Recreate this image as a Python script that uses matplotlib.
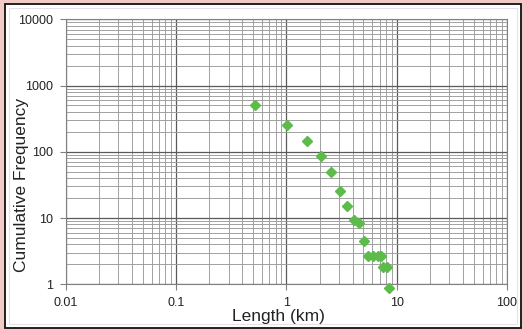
import matplotlib
matplotlib.use("Agg")
import matplotlib.pyplot as plt
from matplotlib.patches import Rectangle
from matplotlib.ticker import LogLocator, FixedLocator, FixedFormatter, NullFormatter

# Data
length_km = [0.52, 1.01, 1.55, 2.05, 2.54, 3.05, 3.57, 4.11, 4.59, 5.1,
             5.5, 6.1, 6.8, 7.2, 7.5, 8.2, 8.6]
cum_freq = [500, 254, 147, 85, 49.5, 25.9, 15.0, 9.3, 8.4, 4.55,
            2.7, 2.7, 2.7, 2.7, 1.8, 1.8, 0.87]
x_ticks = [0.01, 0.1, 1, 10, 100]
x_tick_labels = ["0.01", "0.1", "1", "10", "100"]
y_ticks = [1, 10, 100, 1000, 10000]
y_tick_labels = ["1", "10", "100", "1000", "10000"]

plt.rcParams['font.family'] = ['Liberation Sans', 'DejaVu Sans']

W, H = 523, 329
fig = plt.figure(figsize=(W / 100, H / 100), dpi=100)
fig.patch.set_facecolor('#f3cbc6')

# white chart frame with black border
fig.patches.append(Rectangle((5 / W, 1.5 / H), 516 / W, 323.5 / H, transform=fig.transFigure,
                             facecolor='white', edgecolor='#111111', linewidth=1.3, zorder=-10))
fig.patches.append(Rectangle((9 / W, 5 / H), 508 / W, 316 / H, transform=fig.transFigure,
                             facecolor='none', edgecolor='#e4e4e4', linewidth=0.8, zorder=-9))

ax = fig.add_axes([65.7 / W, (H - 284.3) / H, 441.3 / W, 265 / H])
ax.set_zorder(1)
ax.set_facecolor('white')
ax.set_xscale('log')
ax.set_yscale('log')
ax.set_xlim(0.01, 100)
ax.set_ylim(1, 10000)

ax.xaxis.set_major_locator(FixedLocator(x_ticks))
ax.xaxis.set_major_formatter(FixedFormatter(x_tick_labels))
ax.yaxis.set_major_locator(FixedLocator(y_ticks))
ax.yaxis.set_major_formatter(FixedFormatter(y_tick_labels))
ax.xaxis.set_minor_locator(LogLocator(base=10, subs=range(2, 10), numticks=20))
ax.yaxis.set_minor_locator(LogLocator(base=10, subs=range(2, 10), numticks=20))
ax.xaxis.set_minor_formatter(NullFormatter())
ax.yaxis.set_minor_formatter(NullFormatter())

ax.grid(which='major', color='#5a5a5a', linewidth=0.9)
ax.grid(which='minor', color='#9a9a9a', linewidth=0.65)
ax.set_axisbelow(True)

for s in ax.spines.values():
    s.set_color('#808080')
    s.set_linewidth(0.8)

ax.tick_params(which='major', length=4, color='#808080', labelsize=9, labelcolor='#222222')
ax.tick_params(axis='x', which='major', pad=5)
ax.tick_params(axis='y', which='major', pad=5)
ax.tick_params(which='minor', length=0)

ax.plot(length_km, cum_freq, linestyle='none', marker='D', markersize=5.5,
        color='#5dbb4a', markeredgecolor='#5dbb4a', clip_on=False, zorder=5)

ax.set_xlabel('Length (km)', fontsize=12.5, color='#222222')
ax.xaxis.set_label_coords((278 - 65.7) / 441.3, -(316.5 - 284.3) / 265, transform=ax.transAxes)
ax.xaxis.label.set_va('center')
ax.set_ylabel('Cumulative Frequency', fontsize=12.5, color='#222222')
ax.yaxis.set_label_coords(-(65.7 - 21.7) / 441.3, (284.3 - 185) / 265, transform=ax.transAxes)
ax.yaxis.label.set_va('center')

fig.savefig('out.png', dpi=100, facecolor=fig.get_facecolor())
